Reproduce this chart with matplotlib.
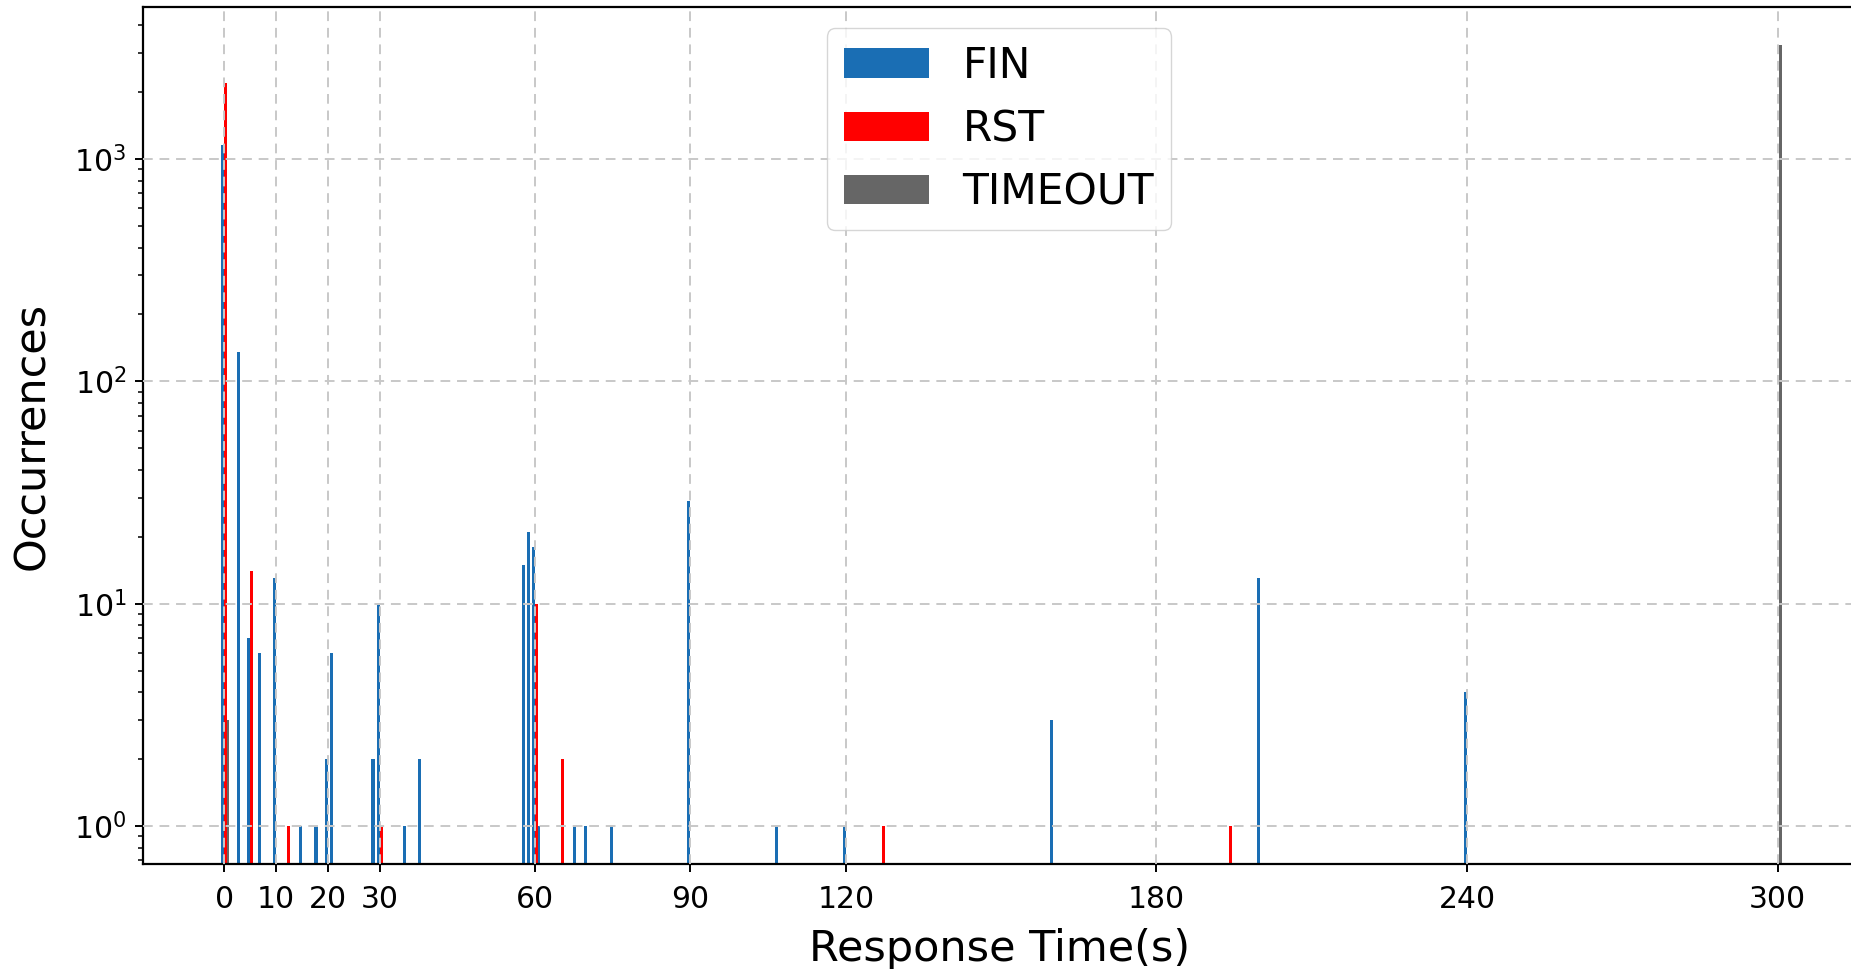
import numpy as np
import matplotlib
matplotlib.use("Agg")
import matplotlib.pyplot as plt

# response time (s) -> number of occurrences, per closing type
fin_t = [0, 3, 5, 7, 10, 15, 18, 20, 21, 29, 30, 35, 38, 58, 59, 60, 61,
         68, 70, 75, 90, 107, 120, 160, 200, 240]
fin_n = [1160, 136, 7, 6, 13, 1, 1, 2, 6, 2, 10, 1, 2, 15, 21, 18, 1,
         1, 1, 1, 29, 1, 1, 3, 13, 4]

rst_t = [0, 5, 12, 30, 60, 65, 127, 194]
rst_n = [2200, 14, 1, 1, 10, 2, 1, 1]

timeout_t = [0, 300]
timeout_n = [3, 3250]

xticks = [0, 10, 20, 30, 60, 90, 120, 180, 240, 300]

fig = plt.figure(figsize=(18.51, 9.69), dpi=100)
ax = fig.add_axes([0.0773, 0.1084, 0.9254, 0.8844])

w = 0.6
ax.bar(np.array(timeout_t) + 0.5, timeout_n, width=w, color="#666666",
       label="TIMEOUT", zorder=1)
ax.bar(np.array(fin_t) - 0.3, fin_n, width=w, color="#1a6eb4",
       label="FIN", zorder=1.2)
ax.bar(np.array(rst_t) + 0.3, rst_n, width=w, color="#ff0000",
       label="RST", zorder=1.3)

ax.set_yscale("log")
ax.set_ylim(0.675, 4830)
ax.set_xlim(-15.7, 315.1)
ax.set_xticks(xticks)
ax.set_xticklabels([str(t) for t in xticks])

ax.set_axisbelow(False)
ax.grid(True, which="major", color="#c8c8c8", linestyle=(0, (5, 3.5)),
        linewidth=1.4, zorder=2.5)

ax.tick_params(axis="both", which="major", labelsize=21.5, length=6,
               width=1.4, color="black")
ax.tick_params(axis="x", which="major", pad=9)
ax.tick_params(axis="y", which="major", pad=6)
ax.tick_params(axis="y", which="minor", length=3.5, width=1.1)
for s in ax.spines.values():
    s.set_linewidth(1.6)
    s.set_color("black")

ax.set_xlabel("Response Time(s)", fontsize=31, labelpad=10)
ax.set_ylabel("Occurrences", fontsize=31, labelpad=15)

h, l = ax.get_legend_handles_labels()
order = [1, 2, 0]
leg = ax.legend([h[i] for i in order], [l[i] for i in order],
                loc="upper center", bbox_to_anchor=(0.4997, 1.0),
                fontsize=30.5, fancybox=True, framealpha=0.8)

fig.savefig("out.png", dpi=100)
